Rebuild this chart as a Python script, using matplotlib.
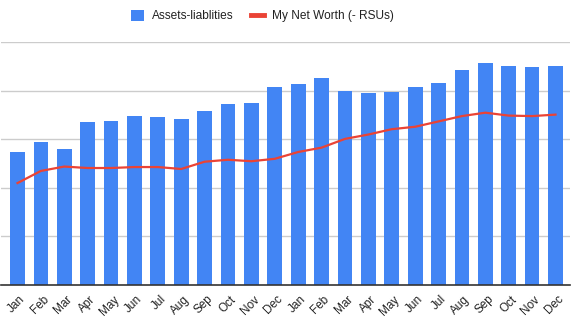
import matplotlib.pyplot as plt
import numpy as np
from matplotlib.lines import Line2D
from matplotlib.patches import Patch

plt.rcParams['font.family'] = ['Liberation Sans', 'DejaVu Sans']

# dados (escala relativa, linhas de grade a cada 10)
meses = ["Jan", "Feb", "Mar", "Apr", "May", "Jun", "Jul", "Aug", "Sep", "Oct", "Nov", "Dec",
         "Jan", "Feb", "Mar", "Apr", "May", "Jun", "Jul", "Aug", "Sep", "Oct", "Nov", "Dec"]
ativos_passivos = [27.4, 29.4, 28.0, 33.5, 33.8, 34.8, 34.6, 34.2, 35.9, 37.3, 37.5, 40.8,
                   41.4, 42.7, 40.0, 39.6, 39.8, 40.8, 41.6, 44.3, 45.8, 45.2, 44.9, 45.2]
patrimonio = [21.0, 23.5, 24.4, 24.1, 24.1, 24.3, 24.3, 23.9, 25.4, 25.8, 25.5, 26.0,
              27.4, 28.3, 30.1, 31.0, 32.1, 32.6, 33.7, 34.8, 35.5, 34.9, 34.8, 35.1]

azul = "#4285F4"
vermelho = "#EA4335"
x = np.arange(len(meses))

fig = plt.figure(figsize=(5.72, 3.23), dpi=100)
ax = fig.add_axes([1 / 572, 1 - 285 / 323, 569 / 572, (285 - 42.3) / 323])

ax.bar(x, ativos_passivos, width=0.63, color=azul, zorder=2)
ax.plot(x, patrimonio, color=vermelho, linewidth=1.6, zorder=3)

ax.set_xlim(-0.705, 23.62)
ax.set_ylim(0, 50)
ax.set_yticks([10, 20, 30, 40, 50])
ax.yaxis.grid(True, color="#cccccc", linewidth=1)
ax.set_axisbelow(True)
ax.tick_params(axis="y", left=False, labelleft=False)
for lado in ["top", "right", "left"]:
    ax.spines[lado].set_visible(False)
ax.spines["bottom"].set_color("#333333")
ax.spines["bottom"].set_linewidth(1.2)

ax.set_xticks(x + 0.08)
ax.set_xticklabels(meses, rotation=45, ha="right", rotation_mode="anchor", fontsize=8.5, color="#222222")
ax.tick_params(axis="x", length=0, pad=6)

# legenda na ordem do original
itens = [Patch(facecolor=azul, edgecolor="none"),
         Line2D([], [], color=vermelho, linewidth=3.5)]
nomes = ["Assets-liablities", "My Net Worth (- RSUs)"]
fig.legend(itens, nomes, loc="center", bbox_to_anchor=(262.5 / 572, 1 - 16 / 323), ncol=2,
           frameon=False, fontsize=8.6, handlelength=1.1, handleheight=1.1, columnspacing=1.4,
           handletextpad=0.7, labelcolor="#222222")

plt.savefig("out.png", dpi=100)
